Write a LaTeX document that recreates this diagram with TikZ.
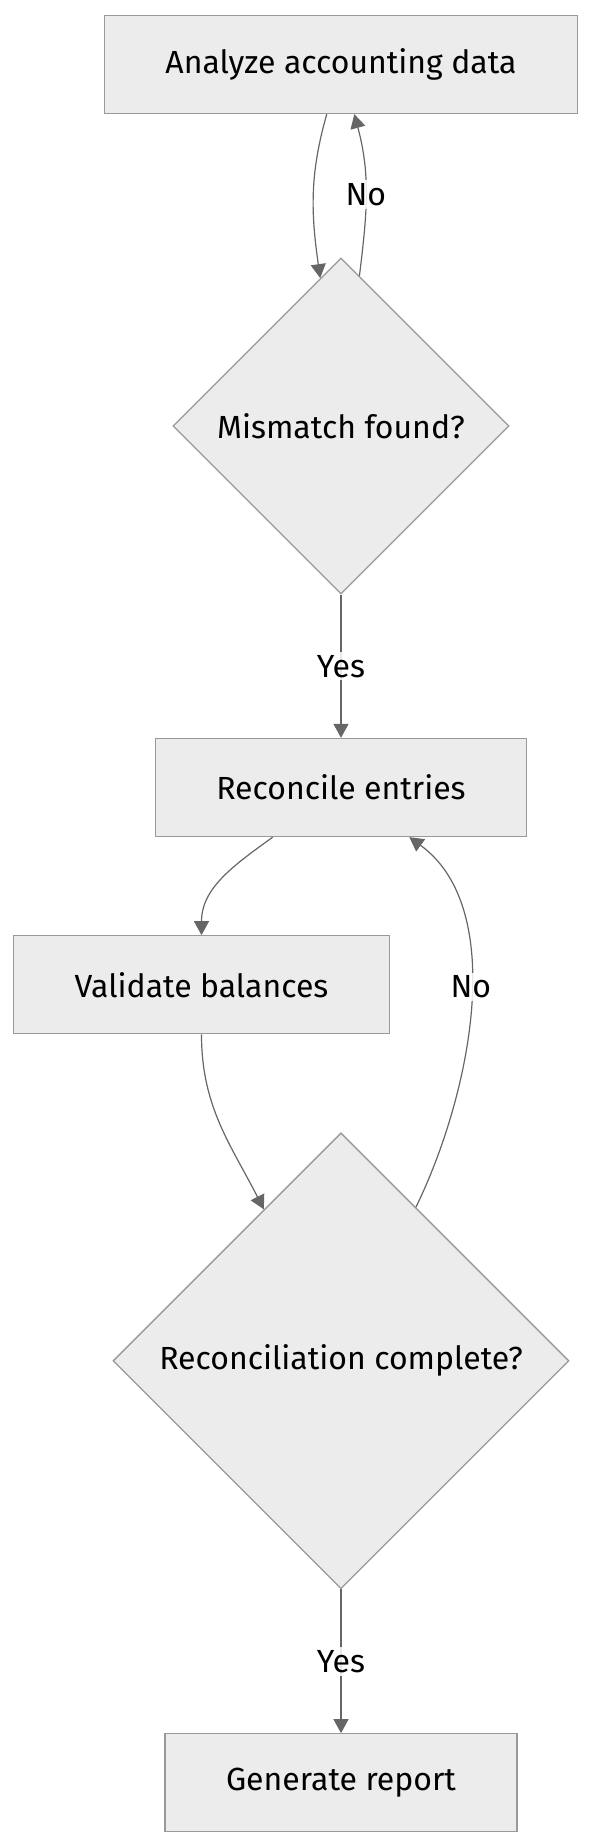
\documentclass[tikz,border=0pt]{standalone}
\usepackage{fontspec}
\setmainfont{Fira Sans}
\usepackage{tikz}
\usetikzlibrary{arrows.meta,positioning,shapes.geometric}
\definecolor{boxfill}{HTML}{ECECEC}
\definecolor{boxline}{HTML}{999999}
\definecolor{edgeline}{HTML}{666666}
\tikzset{%
	process/.style  = {draw=boxline, fill=boxfill, line width=1.3pt, rectangle, minimum height=98pt, inner xsep=61pt, text centered},
	decision/.style = {draw=boxline, fill=boxfill, line width=1.3pt, diamond, aspect=1, inner sep=0pt, text centered},
	arrow/.style    = {draw=edgeline, line width=1.2pt, -{Triangle[length=14pt,width=15pt]}},
	elabel/.style   = {fill=white, fill opacity=0.85, text opacity=1, inner sep=3pt},
}

\begin{document}
\begin{tikzpicture}[x=1pt,y=1pt,node distance=361.5pt,font=\fontsize{32}{37}\selectfont]
	\useasboundingbox (0,0) rectangle (592,-1848);
	\node [process] (ana) at (341,-64.5) {Analyze accounting data};
	\node [decision,minimum size=336pt] (mis) [below of=ana] {Mismatch found?};
	\node [process] (rec) [below of=mis] {Reconcile entries};
	\node [process] (val) [below of=rec,node distance=197.3pt,xshift=-139.5pt] {Validate balances};
	\node [decision,minimum size=456pt] (com) [below of=rec,node distance=573.3pt] {Reconciliation complete?};
	\node [process] (gen) [below of=com,node distance=422pt] {Generate report};
	
	\draw[arrow] (ana) to[out=-106,in=98] (mis);
	\draw[arrow] (mis) to[out=83,in=-75] node[elabel] {No} (ana);
	\draw[arrow] (mis) -- node[elabel] {Yes} (rec);
	\draw[arrow] (rec) to[out=-144,in=90] (val);
	\draw[arrow] (val) to[out=-90,in=117] (com);
	\draw[arrow] (com) to[out=64,in=-36,looseness=0.85] node[elabel,pos=0.55] {No} (rec);
	\draw[arrow] (com) -- node[elabel] {Yes} (gen);
\end{tikzpicture}
\end{document}
